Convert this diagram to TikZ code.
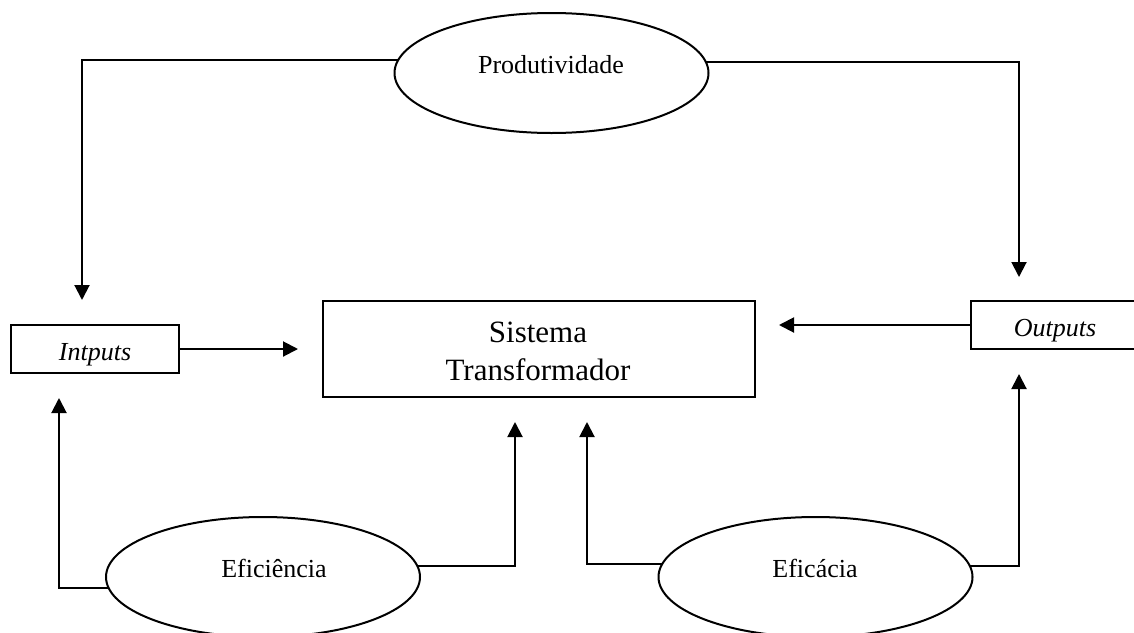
\documentclass[tikz,border=0pt]{standalone}
\usepackage{fontspec}
\setmainfont{Liberation Serif}
\usetikzlibrary{shapes.geometric,arrows.meta,calc}
\begin{document}
\begin{tikzpicture}[x=0.5pt,y=-0.5pt,
  line width=1pt,
  box/.style={draw,rectangle,inner sep=0pt,outer sep=0pt},
  oval/.style={draw,ellipse,inner sep=0pt,outer sep=0pt,
    minimum width=157pt,minimum height=60pt},
  txt/.style={inner sep=0pt,anchor=base,font=\fontsize{13}{15}\selectfont},
  big/.style={inner sep=0pt,anchor=base,font=\fontsize{15.5}{19}\selectfont},
  arr/.style={-{Triangle[width=7.5pt,length=7.5pt]}},
]
\useasboundingbox (0,0) rectangle (1134,632);
\clip (0,0) rectangle (1134,632);
\fill[white] (0,0) rectangle (1134,632);

% boxes
\node[box,minimum width=84pt,minimum height=24pt] (in) at (95,349) {};
\node[box,minimum width=216pt,minimum height=48pt] (sys) at (539,349) {};
\node[box,minimum width=84pt,minimum height=24pt] (out) at (1055,325) {};

% ellipses
\node[oval] (prod) at (551.5,73) {};
\node[oval] (eff) at (263,577) {};
\node[oval] (efc) at (815.5,577) {};

% texts
\node[txt] (tin) at (95,360) {\itshape Intputs};
\node[txt] (tout) at (1055,336) {\itshape Outputs};
\node[big] (tsys1) at (538,342) {Sistema};
\node[big] (tsys2) at (538,380) {Transformador};
\node[txt] (tprod) at (551,73) {Produtividade};
\node[txt] (teff) at (274,577) {Efici\^encia};
\node[txt] (tefc) at (815,577) {Efic\'acia};

% connectors
\draw[arr,shorten >=12.5pt] (prod.175.5) -| ($(in.north west)+(71,0)$);
\draw[arr,shorten >=12pt] (prod.4.5) -| ($(out.north west)+(48,0)$);
\draw[arr,shorten >=12.5pt] (in.east) -- (sys.west);
\draw[arr,shorten >=12pt] (out.west) -- (sys.east |- out.west);
\draw[arr,shorten >=12.5pt] (eff.184.5) -| ($(in.south west)+(48,0)$);
\draw[arr,shorten >=12.5pt] (eff.4.9) -| ($(sys.south west)+(192,0)$);
\draw[arr,shorten >=12.5pt] (efc.175.5) -| ($(sys.south west)+(264,0)$);
\draw[arr,shorten >=12.5pt] (efc.4.5) -| ($(out.south west)+(48,0)$);
\end{tikzpicture}
\end{document}
